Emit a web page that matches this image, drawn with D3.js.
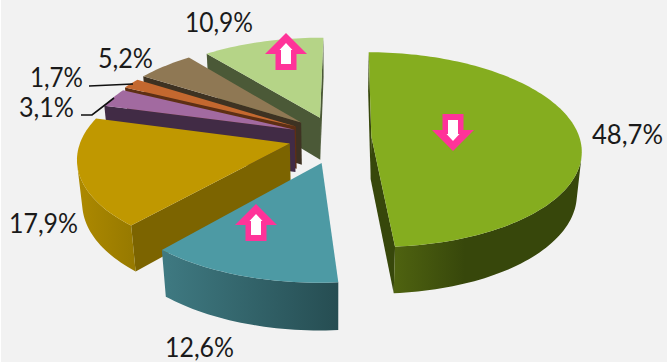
<!DOCTYPE html>
<html><head><meta charset="utf-8">
<script src="https://cdnjs.cloudflare.com/ajax/libs/d3/7.8.5/d3.min.js"></script>
<style>html,body{margin:0;padding:0;background:#fff}svg{display:block}</style>
</head><body><svg id="c" width="667" height="362"></svg>
<script>
const categories = ["A","B","C","D","E","F","G"];
const values = [48.7,12.6,17.9,3.1,1.7,5.2,10.9];
const valueLabels = ["48,7%","12,6%","17,9%","3,1%","1,7%","5,2%","10,9%"];
const explode = [0.17,0.27,0.23,0.215,0.225,0.23,0.22];
const explodeTurn = [0,-4,0,0,0,0,-2];
const topColors = ["#85ad1f","#4d9aa4","#c09800","#a26aa0","#c4682f","#8f7854","#b5d487"];
const faceColors = ["#37470b","#264d52","#7c6400","#412b45","#5e2f14","#3e3222","#4b5937"];
const wallLeft = ["#4f6310","#3f7a82","#ad8900","#412b45","#5e2f14","#3e3222","#4b5937"];
const wallRight = ["#37470b","#264d52","#967900","#412b45","#5e2f14","#3e3222","#4b5937"];
const wallSpan = [0.38,1,1,1,1,1,1];
const labelBoxes = [[592,144,71],[165,357,69],[9,233,69],[19,117,55],[30,87,53],[98,68,55],[185,32,68]];
const leaders = [[[89,86],[133,84]],[[81,115],[92,115],[114,98]]];
const arrows = [[286,33,1],[256,204,1],[453,151,-1]];

const svg = d3.select("#c");
const defs = svg.append("defs");
svg.append("rect").attr("x",1).attr("y",0).attr("width",666).attr("height",362).attr("fill","#f2f2f2");

const Cx=336,Cy=137,A=208,B=95.8,H=43.5,K=0.135,M=0.02;
function proj(x,y,z){
  const s=1/(1-K*y+M*z);
  return [Cx+A*x*s, Cy+(B*y+H*z)*s];
}
const pie=d3.pie().sort(null).startAngle(0.5*Math.PI/180).endAngle(360.5*Math.PI/180);
const arcs=pie(values);
const line=d3.line();

const order=d3.range(values.length).reverse();
const g=svg.append("g");
order.forEach(i=>{
  const a=arcs[i],e=explode[i];
  const mid=(a.startAngle+a.endAngle)/2+explodeTurn[i]*Math.PI/180;
  const ox=e*Math.sin(mid),oy=-e*Math.cos(mid);
  const n=Math.max(4,Math.ceil((a.endAngle-a.startAngle)/(1.5*Math.PI/180)));
  const ang=d3.range(n+1).map(k=>a.startAngle+(a.endAngle-a.startAngle)*k/n);
  const wp=t=>[ox+Math.sin(t),oy-Math.cos(t)];
  const world=[[ox,oy],...ang.map(wp)];
  const edges=world.map((w,k)=>[w,world[(k+1)%world.length],k]);
  const quads=edges.map(([u,v,k])=>({k,q:[proj(u[0],u[1],0),proj(v[0],v[1],0),proj(v[0],v[1],1),proj(u[0],u[1],1)]}))
    .filter(d=>d3.polygonArea(d.q)>0);
  const isRadial=d=>d.k===0||d.k===world.length-1;
  const g2=g.append("g").attr("class","slice").attr("data-cat",categories[i]);
  quads.filter(isRadial).forEach(d=>{
    g2.append("path").attr("d",line(d.q)+"Z").attr("fill",faceColors[i]);
  });
  const outer=quads.filter(d=>!isRadial(d));
  if(outer.length){
    const tops=[outer[0].q[0],...outer.map(d=>d.q[1])];
    const bots=[outer[0].q[3],...outer.map(d=>d.q[2])];
    const poly=[...tops,...bots.reverse()];
    const xr=d3.extent(poly,p=>p[0]);
    const id="w"+i;
    const grad=defs.append("linearGradient").attr("id",id).attr("gradientUnits","userSpaceOnUse")
      .attr("x1",xr[0]).attr("x2",xr[0]+(xr[1]-xr[0])*wallSpan[i]).attr("y1",0).attr("y2",0);
    grad.append("stop").attr("offset",0).attr("stop-color",wallLeft[i]);
    grad.append("stop").attr("offset",1).attr("stop-color",wallRight[i]);
    g2.append("path").attr("d",line(poly)+"Z").attr("fill",`url(#${id})`);
  }
  g2.append("path").attr("d",line(world.map(w=>proj(w[0],w[1],0)))+"Z").attr("fill",topColors[i]);
});

const leaderG=svg.append("g");
leaders.forEach(l=>leaderG.append("path").attr("d",line(l)).attr("fill","none").attr("stroke","#111").attr("stroke-width",1.6));

valueLabels.forEach((t,i)=>{
  const b=labelBoxes[i];
  svg.append("text").text(t).attr("x",b[0]).attr("y",b[1]).attr("textLength",b[2]).attr("lengthAdjust","spacingAndGlyphs")
    .attr("font-family","Lato, 'Open Sans', sans-serif").attr("font-weight",400).attr("font-size",27).attr("fill","#1a1a1a");
});

function arrowPts(d){
  return [[0,0],[21,21],[10.5,21],[10.5,37],[-10.5,37],[-10.5,21],[-21,21]].map(p=>[p[0],p[1]*d]);
}
function innerPts(d){
  return [[0,10],[6.5,17],[5,17],[5,31],[-5,31],[-5,17],[-6.5,17]].map(p=>[p[0],p[1]*d]);
}
arrows.forEach(a=>{
  const ag=svg.append("g").attr("transform",`translate(${a[0]},${a[1]})`);
  ag.append("path").attr("d",line(arrowPts(a[2]))+"Z").attr("fill","#ff3399");
  ag.append("path").attr("d",line(innerPts(a[2]))+"Z").attr("fill","#fff");
});
</script></body></html>
